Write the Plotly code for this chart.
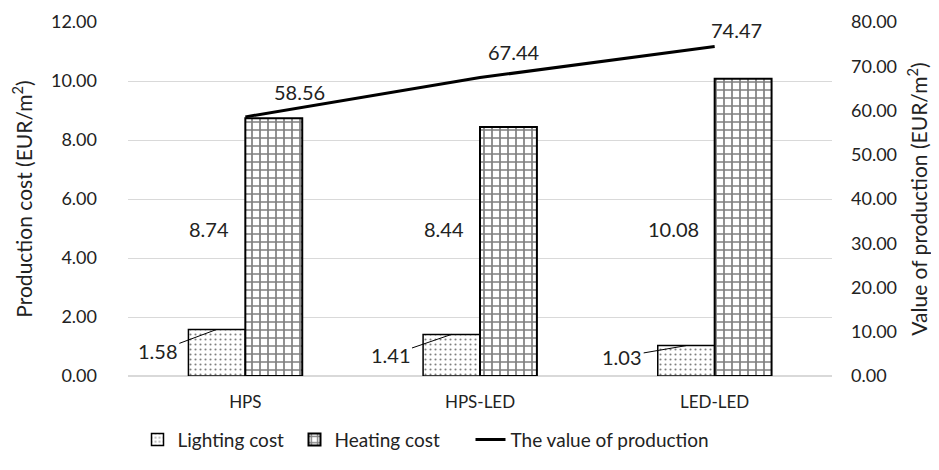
import plotly.graph_objects as go

categories = ["HPS", "HPS-LED", "LED-LED"]
lighting_cost = [1.58, 1.41, 1.03]
heating_cost = [8.74, 8.44, 10.08]
production_value = [58.56, 67.44, 74.47]

left_ticks = [0, 2, 4, 6, 8, 10, 12]
right_ticks = [0, 10, 20, 30, 40, 50, 60, 70, 80]

FONT = "Lato, Carlito, Calibri, sans-serif"
TXT = "#222222"

fig = go.Figure()

fig.add_trace(go.Bar(
    x=categories, y=lighting_cost, name="Lighting cost", legend="legend",
    marker=dict(color="white", line=dict(color="black", width=1.5),
                pattern=dict(shape=".", size=5, solidity=0.14, fgcolor="black", bgcolor="white")),
))
fig.add_trace(go.Bar(
    x=categories, y=heating_cost, name="Heating cost", legend="legend",
    marker=dict(color="white", line=dict(color="black", width=2),
                pattern=dict(shape="+", size=8, solidity=0.38, fgcolor="black", bgcolor="white")),
))
fig.add_trace(go.Scatter(
    x=categories, y=production_value, name="The value of production", yaxis="y2",
    legend="legend2", mode="lines", line=dict(color="black", width=3),
))

# lighting labels with leader lines
light_offsets = [(-59, 22), (-61, 21), (-64, 11)]
for i, (c, v) in enumerate(zip(categories, lighting_cost)):
    ax, ay = light_offsets[i]
    fig.add_annotation(x=c, y=v, xref="x", yref="y", text=f"{v:.2f}",
                       xshift=-28.5, showarrow=True, arrowhead=0, arrowwidth=1,
                       arrowcolor="black", ax=ax, ay=ay,
                       font=dict(family=FONT, size=20, color=TXT))

# heating labels left of bars
for c, v in zip(categories, heating_cost):
    fig.add_annotation(x=c, y=5.0, xref="x", yref="y", text=f"{v:.2f}",
                       xanchor="right", yanchor="middle", xshift=-14, showarrow=False,
                       font=dict(family=FONT, size=20, color=TXT))

# line labels
line_shifts = [(54, 25), (34, 26), (22, 16)]
for i, (c, v) in enumerate(zip(categories, production_value)):
    dx, dy = line_shifts[i]
    fig.add_annotation(x=c, y=v, xref="x", yref="y2", text=f"{v:.2f}",
                       xshift=dx, yshift=dy, showarrow=False,
                       font=dict(family=FONT, size=20, color=TXT))

fig.update_layout(
    width=931, height=462,
    margin=dict(l=119.5, r=106.5, t=14, b=94, autoexpand=False),
    paper_bgcolor="white", plot_bgcolor="white",
    font=dict(family=FONT, size=18, color=TXT),
    barmode="group", bargap=0.515, bargroupgap=0,
    showlegend=True,
    legend=dict(orientation="h", x=0.0135, xanchor="left", y=-0.18, yanchor="middle",
                font=dict(family=FONT, size=19, color=TXT),
                entrywidth=112, traceorder="normal", bgcolor="rgba(0,0,0,0)"),
    legend2=dict(orientation="h", x=0.4865, xanchor="left", y=-0.18, yanchor="middle",
                 font=dict(family=FONT, size=19, color=TXT), bgcolor="rgba(0,0,0,0)"),
    xaxis=dict(showgrid=False, showline=False, ticks="", ticklabelstandoff=14,
               automargin=False,
               tickfont=dict(family=FONT, size=17, color=TXT)),
    yaxis=dict(range=[0, 12], tickvals=left_ticks, tickformat=".2f",
               showgrid=True, gridcolor="#d9d9d9", gridwidth=1, automargin=False,
               zeroline=True, zerolinecolor="#d9d9d9", zerolinewidth=1.5,
               showline=False, ticks="", ticklabelstandoff=30,
               title=dict(text="Production cost (EUR/m<sup>2</sup>)", standoff=14,
                          font=dict(family=FONT, size=21, color=TXT)),
               tickfont=dict(family=FONT, size=18, color=TXT)),
    yaxis2=dict(range=[0, 80], tickvals=right_ticks, tickformat=".2f",
                overlaying="y", side="right", showgrid=False, zeroline=False,
                showline=False, ticks="", ticklabelstandoff=18, automargin=False,
                title=dict(text="Value of production (EUR/m<sup>2</sup>)", standoff=16,
                           font=dict(family=FONT, size=21, color=TXT)),
                tickfont=dict(family=FONT, size=18, color=TXT)),
)

fig.write_html("out.html")
